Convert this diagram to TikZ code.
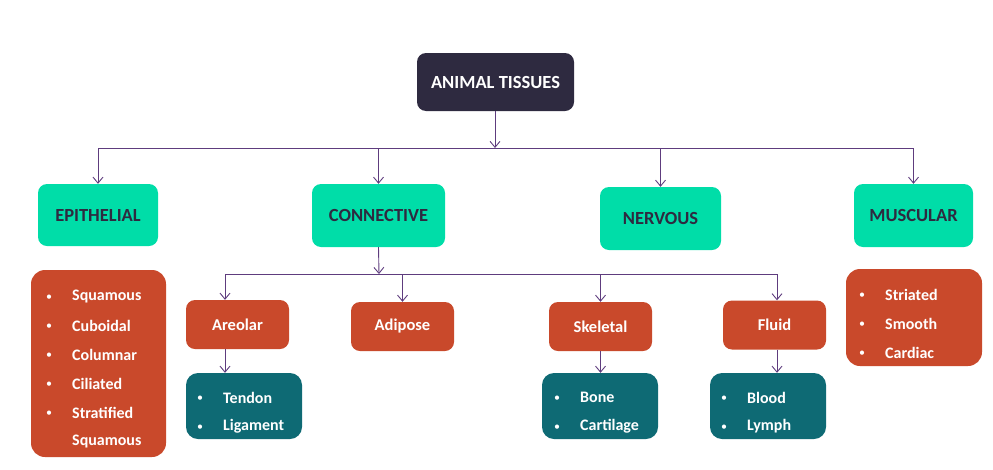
\documentclass[tikz,border=0pt]{standalone}
\usepackage{fontspec}
\setmainfont{Carlito}
\usetikzlibrary{arrows.meta}
\definecolor{tissuedark}{HTML}{2E2A40}
\definecolor{tissuegreen}{HTML}{00DDA8}
\definecolor{tissueorange}{HTML}{C9492B}
\definecolor{tissueteal}{HTML}{0E6A74}
\definecolor{tissueline}{HTML}{5E3C7E}
\begin{document}
\begin{tikzpicture}[x=1pt,y=-1pt,
    box/.style={rounded corners=9pt, inner sep=0pt, font=\bfseries\fontsize{18.5}{20}\selectfont},
    rootbox/.style={box, fill=tissuedark, text=white, minimum width=157pt, minimum height=58pt},
    kindbox/.style={box, fill=tissuegreen, text=tissuedark, minimum width=120pt, minimum height=62pt},
    subbox/.style={box, fill=tissueorange, text=white, minimum width=103pt, minimum height=49pt, font=\bfseries\fontsize{16.5}{18}\selectfont},
    listbox/.style={rounded corners=14pt, fill=tissueorange, inner sep=0pt},
    tealbox/.style={rounded corners=12pt, fill=tissueteal, inner sep=0pt, minimum width=116pt, minimum height=66pt},
    item/.style={anchor=west, text=white, inner sep=0pt, yshift=-1.5pt, font=\bfseries\fontsize{16}{18}\selectfont},
    dot/.style={text=white, inner sep=0pt, yshift=-3pt, font=\fontsize{12}{14}\selectfont},
    line/.style={draw=tissueline, line width=0.9pt},
    link/.style={line, -{Straight Barb[length=6pt,width=10pt]}}]
  \useasboundingbox (0,0) rectangle (993,469);

  % top level
  \node[rootbox] (root) at (495.5,82) {ANIMAL TISSUES};
  \node[kindbox] (epi) at (98,215) {EPITHELIAL};
  \node[kindbox, minimum width=133pt, minimum height=63pt] (con) at (378.5,215.5) {CONNECTIVE};
  \node[kindbox, minimum width=121pt, minimum height=63pt] (ner) at (660.5,218.5) {NERVOUS};
  \node[kindbox, minimum width=119pt, minimum height=63pt] (mus) at (913.5,215.5) {MUSCULAR};

  \coordinate (bus) at (495,148);
  \draw[link] (root.south -| bus) -- (bus);
  \draw[line] (epi |- bus) -- (mus |- bus);
  \draw[link] (epi |- bus) -- (epi.north);
  \draw[link] (con |- bus) -- (con.north);
  \draw[link] (ner |- bus) -- (ner.north);
  \draw[link] (mus |- bus) -- (mus.north);

  % epithelial list
  \node[listbox, minimum width=135pt, minimum height=187pt] (epilist) at (98.5,363.5) {};
  \foreach \t [count=\i from 0] in {Squamous,Cuboidal,Columnar,Ciliated,Stratified} {
    \node[dot] (epi-b\i) at (49,295+29*\i) {\textbullet};
    \node[item] (epi-i\i) at (72,295+29*\i) {\t};
  }
  \node[item] (epi-i5) at (72,440) {Squamous};

  % muscular list
  \node[listbox, minimum width=136pt, minimum height=97pt] (muslist) at (914,317.5) {};
  \foreach \t [count=\i from 0] in {Striated,Smooth,Cardiac} {
    \node[dot] (mus-b\i) at (862,293+29*\i) {\textbullet};
    \node[item] (mus-i\i) at (885,293+29*\i) {\t};
  }

  % connective
  \node[subbox] (are) at (237.5,324.5) {Areolar};
  \node[subbox] (adi) at (402.5,326.5) {Adipose};
  \node[subbox] (ske) at (600.5,326.5) {Skeletal};
  \node[subbox] (flu) at (774.5,325) {Fluid};

  \coordinate (cbus) at (379,274);
  \coordinate (are-in) at (225,274);
  \coordinate (flu-in) at (777,274);
  \draw[link] (con.south) -- (cbus);
  \draw[line] (are-in) -- (flu-in);
  \draw[link] (are-in) -- (are-in |- are.north);
  \draw[link] (adi |- cbus) -- (adi.north);
  \draw[link] (ske |- cbus) -- (ske.north);
  \draw[link] (flu-in) -- (flu-in |- flu.north);

  \node[tealbox] (ten) at (244,406) {};
  \node[tealbox] (bon) at (600,406) {};
  \node[tealbox] (blo) at (768,406) {};
  \draw[link] (are-in |- are.south) -- (are-in |- ten.north);
  \draw[link] (ske.south) -- (ske.south |- bon.north);
  \draw[link] (flu-in |- flu.south) -- (flu-in |- blo.north);

  \node[dot] (ten-b0) at (200,396) {\textbullet};
  \node[item] (ten-i0) at (223,396) {Tendon};
  \node[dot] (ten-b1) at (200,425) {\textbullet};
  \node[item] (ten-i1) at (223,425) {Ligament};
  \node[dot] (bon-b0) at (557,396) {\textbullet};
  \node[item] (bon-i0) at (580,396) {Bone};
  \node[dot] (bon-b1) at (557,425) {\textbullet};
  \node[item] (bon-i1) at (580,425) {Cartilage};
  \node[dot] (blo-b0) at (724,396) {\textbullet};
  \node[item] (blo-i0) at (747,396) {Blood};
  \node[dot] (blo-b1) at (724,425) {\textbullet};
  \node[item] (blo-i1) at (747,425) {Lymph};
\end{tikzpicture}
\end{document}
